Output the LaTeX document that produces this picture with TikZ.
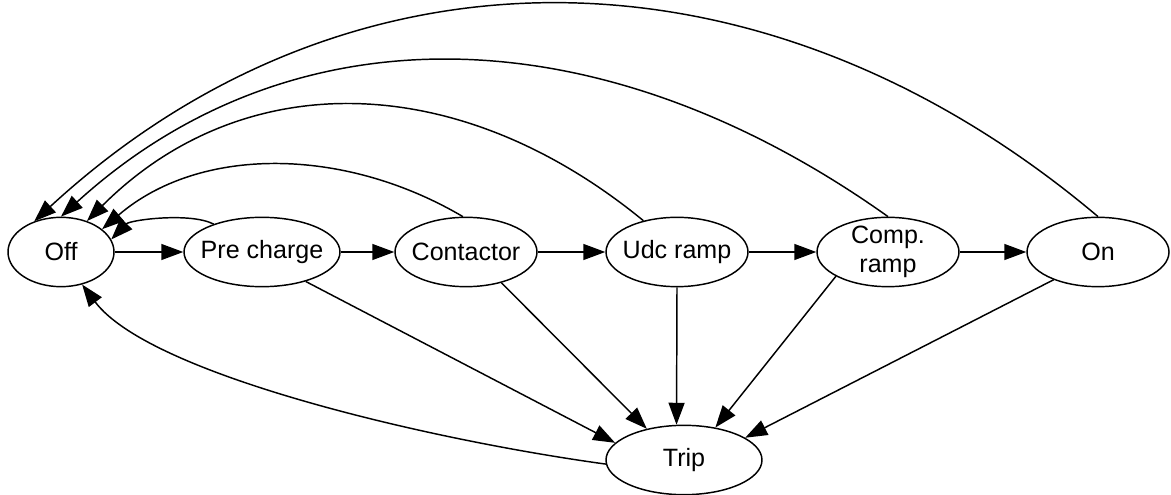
\documentclass[tikz,border=0pt]{standalone}
\usepackage{fontspec}
\setmainfont{Liberation Sans}
\usetikzlibrary{shapes.geometric,arrows.meta}
\begin{document}
\begin{tikzpicture}[x=0.75pt,y=-0.75pt,
  state/.style={ellipse,draw,line width=1.1pt,inner xsep=-200pt,inner ysep=-200pt,
    minimum height=52pt,font=\fontsize{18.8}{21.8}\selectfont,align=center},
  edge/.style={line width=1.1pt,-{Triangle[length=16.5pt,width=12pt]}}]
\useasboundingbox (0,0) rectangle (1171,495);

% states
\node[state,minimum width=79.5pt]  (off)  at (61,252)   {Off};
\node[state,minimum width=117pt]   (pre)  at (262,252)  {Pre charge};
\node[state,minimum width=106.5pt] (con)  at (466,252)  {Contactor};
\node[state,minimum width=106.5pt] (udc)  at (677,252)  {Udc ramp};
\node[state,minimum width=106.5pt] (comp) at (888,252)  {Comp.\\ramp};
\node[state,minimum width=106.5pt] (on)   at (1098,252) {On};
\node[state,minimum width=117pt]   (trip) at (684,460)  {Trip};

% forward sequence
\draw[edge] (off) -- (pre);
\draw[edge] (pre) -- (con);
\draw[edge] (con) -- (udc);
\draw[edge] (udc) -- (comp);
\draw[edge] (comp) -- (on);

% fault transitions
\draw[edge] (pre.-34)   -- (trip.166);
\draw[edge] (con.-41)   -- (trip.140);
\draw[edge] (udc.south) -- (trip.102);
\draw[edge] (comp.-155) -- (trip.46);
\draw[edge] (on.-148)   -- (trip.20);
\draw[edge] (trip.183) .. controls (430,440) and (150,375) .. (off.-57);

% returns to Off
\draw[edge] (on.north)   .. controls (762,-67) and (347,-67) .. (off.131);
\draw[edge] (comp.north) .. controls (596,9)   and (289,9)   .. (off.90);
\draw[edge] (udc.137)    .. controls (456,67)  and (241,67)  .. (off.50);
\draw[edge] (con.95)     .. controls (343,146) and (199,146) .. (off.29);
\draw[edge] (pre.150)    .. controls (190,212) and (130,220) .. (off.14);
\end{tikzpicture}
\end{document}
